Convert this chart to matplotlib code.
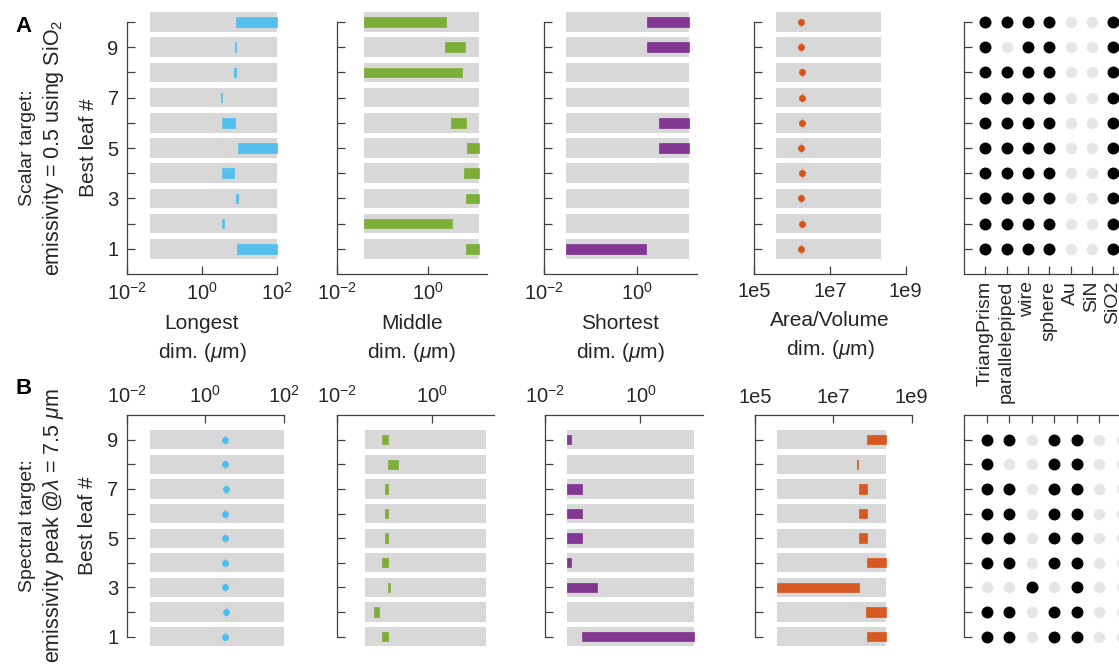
import numpy as np
import matplotlib
matplotlib.use("Agg")
import matplotlib.pyplot as plt
from matplotlib.ticker import NullLocator, FixedLocator, FixedFormatter

plt.rcParams["font.family"] = ["Liberation Sans", "DejaVu Sans"]
plt.rcParams["mathtext.fontset"] = "custom"
plt.rcParams["mathtext.rm"] = "Liberation Sans"
plt.rcParams["mathtext.it"] = "Liberation Sans:italic"
plt.rcParams["mathtext.default"] = "rm"

# ---------------- data ----------------
rows_A = [1, 2, 3, 4, 5, 6, 7, 8, 9, 10]
rows_B = [1, 2, 3, 4, 5, 6, 7, 8, 9]

longest_band = (0.04, 100)
middle_band = (0.04, 13.3)
shortest_band = (0.029, 13.5)
area_band = (3.7e5, 2.2e8)

# Scalar target (A): leaf ranges per feature, rows 1..10
a_longest_lo = [8.75, 3.35, 8.1, 3.41, 8.9, 3.48, 3.30, 7.35, 7.8, 8.2]
a_longest_hi = [100, 3.78, 9.1, 7.28, 100, 7.6, 3.34, 7.85, 8.25, 100]
a_middle_lo = [7.1, 0.04, 7.1, 6.3, 7.4, 3.3, None, 0.04, 2.44, 0.04]
a_middle_hi = [13.3, 3.5, 13.3, 13.3, 13.3, 6.95, None, 5.7, 6.7, 2.5]
a_shortest_lo = [0.029, None, None, None, 3.0, 3.1, None, None, 1.7, 1.65]
a_shortest_hi = [1.63, None, None, None, 13.5, 13.5, None, None, 13.5, 13.5]
a_area = [1.69e6, 1.83e6, 1.72e6, 1.79e6, 1.69e6, 1.79e6, 1.79e6, 1.83e6, 1.75e6, 1.72e6]

# Spectral target (B): rows 1..9
b_longest = [3.17, 3.30, 3.12, 3.17, 3.12, 3.12, 3.37, 3.23, 3.17]
b_middle_lo = [0.090, 0.059, 0.119, 0.090, 0.103, 0.103, 0.103, 0.119, 0.090]
b_middle_hi = [0.117, 0.077, 0.133, 0.117, 0.117, 0.117, 0.117, 0.19, 0.117]
b_shortest_lo = [0.06, None, 0.029, 0.029, 0.029, 0.029, 0.029, None, 0.029]
b_shortest_hi = [13.5, None, 0.123, 0.035, 0.0605, 0.0605, 0.0605, None, 0.035]
b_area_lo = [7.2e7, 6.9e7, 3.6e5, 7.2e7, 4.6e7, 4.6e7, 4.6e7, 3.9e7, 7.2e7]
b_area_hi = [2.2e8, 2.2e8, 4.4e7, 2.2e8, 7.2e7, 7.2e7, 7.2e7, 4.3e7, 2.2e8]

categories = ["TriangPrism", "parallelepiped", "wire", "sphere", "Au", "SiN", "SiO2"]
a_selected = [
    [1, 1, 1, 1, 0, 0, 1],
    [1, 1, 1, 1, 0, 0, 1],
    [1, 1, 1, 1, 0, 0, 1],
    [1, 1, 1, 1, 0, 0, 1],
    [1, 1, 1, 1, 0, 0, 1],
    [1, 1, 1, 1, 0, 0, 1],
    [1, 1, 1, 1, 0, 0, 1],
    [1, 1, 1, 1, 0, 0, 1],
    [1, 0, 1, 1, 0, 0, 1],
    [1, 1, 1, 1, 0, 0, 1],
]
b_selected = [
    [1, 1, 0, 1, 1, 0, 0],
    [1, 1, 0, 1, 1, 0, 0],
    [0, 0, 1, 0, 1, 0, 0],
    [1, 1, 0, 1, 1, 0, 0],
    [1, 1, 0, 1, 1, 0, 0],
    [1, 1, 0, 1, 1, 0, 0],
    [1, 1, 0, 1, 1, 0, 0],
    [1, 0, 0, 1, 1, 0, 0],
    [1, 1, 0, 1, 1, 0, 0],
]

# ---------------- style ----------------
BAND = "#d8d8d8"
BLUE = "#4dbeee"
GREEN = "#77ac30"
PURPLE = "#7e2f8e"
ORANGE = "#d95319"
OFF = "#e6e6e6"
AXC = "#404040"
TXT = "#262626"
FS_TICK = 14.5
FS_LAB = 15

W, H = 1119, 665
fig = plt.figure(figsize=(W / 100, H / 100), dpi=100)


def new_axes(x0, x1, ytop, ybot):
    return fig.add_axes([x0 / W, 1 - ybot / H, (x1 - x0) / W, (ybot - ytop) / H])


def style(ax, top_axis):
    for s in ax.spines.values():
        s.set_color(AXC)
        s.set_linewidth(0.9)
    ax.spines["right"].set_visible(False)
    if top_axis:
        ax.spines["bottom"].set_visible(False)
        ax.xaxis.tick_top()
    else:
        ax.spines["top"].set_visible(False)
    ax.tick_params(direction="in", length=6, width=0.9, color=AXC,
                   labelsize=FS_TICK, labelcolor=TXT, pad=6)
    ax.xaxis.set_minor_locator(NullLocator())
    ax.yaxis.set_minor_locator(NullLocator())


def band_rows(ax, rows, band):
    ax.barh(rows, band[1] - band[0], left=band[0], height=0.78, color=BAND,
            linewidth=0, zorder=0, clip_on=False)


def range_bars(ax, rows, lo, hi, color):
    for r, l, h in zip(rows, lo, hi):
        if l is None:
            continue
        ax.barh(r, h - l, left=l, height=0.38, color=color, edgecolor=color,
                linewidth=0.5, alpha=0.95, zorder=2, clip_on=False)


def dots(ax, rows, vals, color):
    ax.vlines(vals, np.array(rows) - 0.19, np.array(rows) + 0.19, color=color,
              linewidth=1.0, alpha=0.45, zorder=2)
    ax.plot(vals, rows, "o", ms=5, color=color, mec="none", zorder=3, clip_on=False)


def log_ticks(ax, ticks, labels):
    ax.set_xscale("log")
    ax.xaxis.set_major_locator(FixedLocator(ticks))
    ax.xaxis.set_major_formatter(FixedFormatter(labels))
    ax.xaxis.set_minor_locator(NullLocator())


def select_dots(ax, rows, sel):
    for r, row in zip(rows, sel):
        for j, v in enumerate(row):
            if v:
                ax.plot(j + 1, r, "o", ms=8.6, color="black", mec="none", clip_on=False)
            else:
                ax.plot(j + 1, r, "o", ms=8.2, color=OFF, mec="none", clip_on=False)
    ax.set_xlim(0, 8)
    ax.set_xticks(range(1, len(categories) + 1))


dec3 = [1e-2, 1e0]
dec3_lab = ["$10^{-2}$", "$10^{0}$"]
MU = "dim. ($\\mathit{\\mu}$m)"

# ---------------- panel A ----------------
yA = (22, 274)
colsA = [(127, 277), (336.7, 486.7), (544.3, 696.7), (754.3, 905.7), (964, 1134.4)]
axA = [new_axes(c[0], c[1], *yA) for c in colsA]

ax = axA[0]
band_rows(ax, rows_A, longest_band)
range_bars(ax, rows_A, a_longest_lo, a_longest_hi, BLUE)
log_ticks(ax, [1e-2, 1e0, 1e2], ["$10^{-2}$", "$10^{0}$", "$10^{2}$"])
ax.set_xlim(1e-2, 1e2)

ax = axA[1]
band_rows(ax, rows_A, middle_band)
range_bars(ax, rows_A, a_middle_lo, a_middle_hi, GREEN)
log_ticks(ax, dec3, dec3_lab)
ax.set_xlim(1e-2, 20)

ax = axA[2]
band_rows(ax, rows_A, shortest_band)
range_bars(ax, rows_A, a_shortest_lo, a_shortest_hi, PURPLE)
log_ticks(ax, dec3, dec3_lab)
ax.set_xlim(1e-2, 20)

ax = axA[3]
band_rows(ax, rows_A, area_band)
dots(ax, rows_A, a_area, ORANGE)
log_ticks(ax, [1e5, 1e7, 1e9], ["1e5", "1e7", "1e9"])
ax.set_xlim(1e5, 1e9)

select_dots(axA[4], rows_A, a_selected)

xlabels = ["Longest", "Middle", "Shortest", "Area/Volume"]
for i, ax in enumerate(axA):
    style(ax, top_axis=False)
    ax.set_ylim(0, 10)
    ax.set_yticks(rows_A)
    if i == 0:
        ax.set_yticklabels([str(r) if r % 2 else "" for r in rows_A])
    else:
        ax.set_yticklabels([])
    if i < 4:
        ax.set_xlabel(xlabels[i] + "\n" + MU, fontsize=FS_LAB, color=TXT,
                      linespacing=1.45, labelpad=7)
axA[4].set_xticklabels(categories, rotation=90, fontsize=14)
axA[4].tick_params(axis="x", pad=5)

# ---------------- panel B ----------------
yB = (415, 636.7)
colsB = [(126.7, 284), (336.7, 494.3), (545, 702.6), (755, 911.7), (964.2, 1144.2)]
axB = [new_axes(c[0], c[1], *yB) for c in colsB]

ax = axB[0]
band_rows(ax, rows_B, longest_band)
dots(ax, rows_B, b_longest, BLUE)
log_ticks(ax, [1e-2, 1e0, 1e2], ["$10^{-2}$", "$10^{0}$", "$10^{2}$"])
ax.set_xlim(1e-2, 1e2)

ax = axB[1]
band_rows(ax, rows_B, middle_band)
range_bars(ax, rows_B, b_middle_lo, b_middle_hi, GREEN)
log_ticks(ax, dec3, dec3_lab)
ax.set_xlim(1e-2, 20)

ax = axB[2]
band_rows(ax, rows_B, shortest_band)
range_bars(ax, rows_B, b_shortest_lo, b_shortest_hi, PURPLE)
log_ticks(ax, dec3, dec3_lab)
ax.set_xlim(1e-2, 20)

ax = axB[3]
band_rows(ax, rows_B, area_band)
range_bars(ax, rows_B, b_area_lo, b_area_hi, ORANGE)
log_ticks(ax, [1e5, 1e7, 1e9], ["1e5", "1e7", "1e9"])
ax.set_xlim(1e5, 1e9)

select_dots(axB[4], rows_B, b_selected)

for i, ax in enumerate(axB):
    style(ax, top_axis=True)
    ax.set_ylim(1, 10)
    ax.set_yticks(rows_B)
    if i == 0:
        ax.set_yticklabels([str(r) if r % 2 else "" for r in rows_B])
    else:
        ax.set_yticklabels([])
axB[4].set_xticklabels([])

# ---------------- row labels ----------------
for ax in (axA[0], axB[0]):
    ax.set_ylabel("Best leaf #", fontsize=FS_LAB, color=TXT, labelpad=7)

cA = 1 - (yA[0] + yA[1]) / 2 / H
cB = 1 - (yB[0] + yB[1]) / 2 / H
row_titles = [
    (cA, "Scalar target:", "emissivity = 0.5 using SiO$_2$"),
    (cB, "Spectral target:", "emissivity peak @$\\mathit{\\lambda}$ = 7.5 $\\mathit{\\mu}$m"),
]
for yc, first, second in row_titles:
    fig.text(28 / W, yc, first, rotation=90, ha="center", va="center",
             fontsize=14, color=TXT)
    fig.text(53 / W, yc, second, rotation=90, ha="center", va="center",
             fontsize=15.5, color=TXT)

fig.text(24 / W, 1 - 26 / H, "A", fontsize=16, fontweight="bold", ha="center",
         va="center", color="black")
fig.text(24 / W, 1 - 388 / H, "B", fontsize=16, fontweight="bold", ha="center",
         va="center", color="black")

fig.savefig("out.png", dpi=100)
